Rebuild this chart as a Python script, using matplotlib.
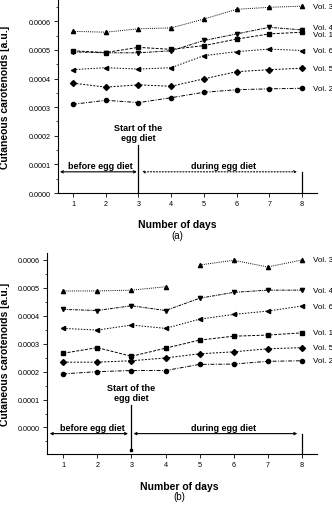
import numpy as np
import matplotlib
matplotlib.use('Agg')
import matplotlib.pyplot as plt
from matplotlib.ticker import FormatStrFormatter, MultipleLocator

plt.rcParams['font.family'] = ['Liberation Sans', 'DejaVu Sans']

# ---------------------------
# data
# ---------------------------
days = [1, 2, 3, 4, 5, 6, 7, 8]
vol_names = ['Vol. 1', 'Vol. 2', 'Vol. 3', 'Vol. 4', 'Vol. 5', 'Vol. 6']

# panel (a)
a_vol1 = [0.000497, 0.000491, 0.000509, 0.000502, 0.000515, 0.000538, 0.000556, 0.000562]
a_vol2 = [0.000310, 0.000324, 0.000316, 0.000333, 0.000352, 0.000361, 0.000364, 0.000366]
a_vol3 = [0.000565, 0.000562, 0.000574, 0.000577, 0.000608, 0.000642, 0.000649, 0.000653]
a_vol4 = [0.000493, 0.000490, 0.000490, 0.000497, 0.000533, 0.000556, 0.000579, 0.000570]
a_vol5 = [0.000384, 0.000370, 0.000378, 0.000373, 0.000399, 0.000424, 0.000431, 0.000436]
a_vol6 = [0.000431, 0.000438, 0.000433, 0.000438, 0.000480, 0.000494, 0.000503, 0.000498]

# panel (b)
b_vol1 = [0.000266, 0.000286, 0.000255, 0.000284, 0.000313, 0.000327, 0.000331, 0.000339]
b_vol2 = [0.000192, 0.000200, 0.000204, 0.000204, 0.000226, 0.000227, 0.000237, 0.000239]
b_vol3 = [0.000489, 0.000489, 0.000492, 0.000504, 0.000582, 0.000599, 0.000575, 0.000600]
b_vol4 = [0.000423, 0.000419, 0.000436, 0.000419, 0.000463, 0.000484, 0.000492, 0.000492]
b_vol5 = [0.000234, 0.000234, 0.000239, 0.000249, 0.000264, 0.000271, 0.000282, 0.000286]
b_vol6 = [0.000355, 0.000349, 0.000367, 0.000355, 0.000388, 0.000405, 0.000417, 0.000435]

markers = ['s', 'o', '^', 'v', 'D', '<']
styles = [(0, (3, 1.5)), (0, (4, 1.5, 1, 1.5)), (0, (1, 1.2)),
          (0, (3, 1, 1, 1)), (0, (2, 1.5)), (0, (1.5, 1.5))]

fig = plt.figure(figsize=(3.32, 5.06), dpi=100)
ax_a = fig.add_axes([0.1747, 0.6166, 0.7803, 0.3834])
ax_b = fig.add_axes([0.1416, 0.1008, 0.8134, 0.3972])


def style_axes(ax, xlim, ylim):
    ax.set_xlim(*xlim)
    ax.set_ylim(*ylim)
    for s in ['top', 'right']:
        ax.spines[s].set_visible(False)
    for s in ['left', 'bottom']:
        ax.spines[s].set_linewidth(0.8)
    ax.set_xticks(days)
    ax.yaxis.set_major_locator(MultipleLocator(0.0001))
    ax.yaxis.set_minor_locator(MultipleLocator(0.00005))
    ax.yaxis.set_major_formatter(FormatStrFormatter('%.4f'))
    ax.tick_params(axis='both', which='major', labelsize=5.2, length=3, width=0.6, pad=2)
    ax.tick_params(axis='y', which='minor', length=1.5, width=0.5)
    ax.set_ylabel('Cutaneous carotenoids [a.u.]', fontsize=7.5, fontweight='bold')
    ax.set_xlabel('Number of days', fontsize=7.5, fontweight='bold')


def draw_series(ax, series, label_dy, gap_after=None):
    for i, vals in enumerate(series):
        y = np.array(vals, dtype=float)
        x = np.array(days, dtype=float)
        if gap_after is not None and i == gap_after[0]:
            k = gap_after[1]
            x = np.concatenate([x[:k], [np.nan], x[k:]])
            y = np.concatenate([y[:k], [np.nan], y[k:]])
        ax.plot(x, y, color='black', lw=0.7, linestyle=styles[i],
                marker=markers[i], markersize=3, clip_on=False)
        ax.annotate(vol_names[i], (days[-1], vals[-1]), xytext=(8, label_dy[i]),
                    textcoords='offset points', fontsize=5.8, va='center',
                    ha='left', annotation_clip=False)


# ---------------------------
# panel (a)
# ---------------------------
style_axes(ax_a, (0.54, 8.46), (0, 0.000678))
draw_series(ax_a, [a_vol1, a_vol2, a_vol3, a_vol4, a_vol5, a_vol6],
            [-2, 0, 0, 2, 0, 0])
ax_a.plot([3, 3], [0, 0.000168], color='black', lw=0.9)
ax_a.plot([8, 8], [0, 0.000074], color='black', lw=0.9)
ax_a.annotate('', xy=(0.6, 0.000074), xytext=(2.95, 0.000074),
              arrowprops=dict(arrowstyle='<->', lw=0.8, color='black',
                              mutation_scale=4, shrinkA=0, shrinkB=0))
ax_a.annotate('', xy=(3.1, 0.000074), xytext=(7.85, 0.000074),
              arrowprops=dict(arrowstyle='<->', lw=0.8, color='black', ls=':',
                              mutation_scale=4, shrinkA=0, shrinkB=0))
ax_a.text(1.85, 0.000080, 'before egg diet', fontsize=6.5, fontweight='bold',
          ha='center', va='bottom')
ax_a.text(5.6, 0.000080, 'during egg diet', fontsize=6.5, fontweight='bold',
          ha='center', va='bottom')
ax_a.text(3, 0.000178, 'Start of the\negg diet', fontsize=6.5, fontweight='bold',
          ha='center', va='bottom', linespacing=1.15)
ax_a.yaxis.set_label_coords(-0.185, 0.5)
ax_a.xaxis.set_label_coords(0.46, -0.134)
ax_a.text(0.46, -0.215, '(a)', transform=ax_a.transAxes, fontsize=7,
          ha='center', va='center')

# ---------------------------
# panel (b)
# ---------------------------
style_axes(ax_b, (0.52, 8.45), (-0.000095, 0.000625))
draw_series(ax_b, [b_vol1, b_vol2, b_vol3, b_vol4, b_vol5, b_vol6],
            [0, 0, 0, 0, 0, 0], gap_after=(2, 4))
ax_b.plot([3, 3], [-0.000082, 0.000081], color='black', lw=0.9,
          marker='s', markersize=2, markevery=[0])
ax_b.plot([8, 8], [-0.000095, -0.000022], color='black', lw=0.9)
ax_b.annotate('', xy=(0.6, -0.000022), xytext=(2.9, -0.000022),
              arrowprops=dict(arrowstyle='<->', lw=0.8, color='black',
                              mutation_scale=4, shrinkA=0, shrinkB=0))
ax_b.annotate('', xy=(3.06, -0.000022), xytext=(7.87, -0.000022),
              arrowprops=dict(arrowstyle='<->', lw=0.8, color='black',
                              mutation_scale=4, shrinkA=0, shrinkB=0))
ax_b.text(1.86, -0.000016, 'before egg diet', fontsize=6.5, fontweight='bold',
          ha='center', va='bottom')
ax_b.text(5.7, -0.000016, 'during egg diet', fontsize=6.5, fontweight='bold',
          ha='center', va='bottom')
ax_b.text(3, 0.000090, 'Start of the\negg diet', fontsize=6.5, fontweight='bold',
          ha='center', va='bottom', linespacing=1.15)
ax_b.yaxis.set_label_coords(-0.137, 0.5)
ax_b.xaxis.set_label_coords(0.49, -0.134)
ax_b.text(0.49, -0.21, '(b)', transform=ax_b.transAxes, fontsize=7,
          ha='center', va='center')

fig.savefig('out.png', dpi=100)
